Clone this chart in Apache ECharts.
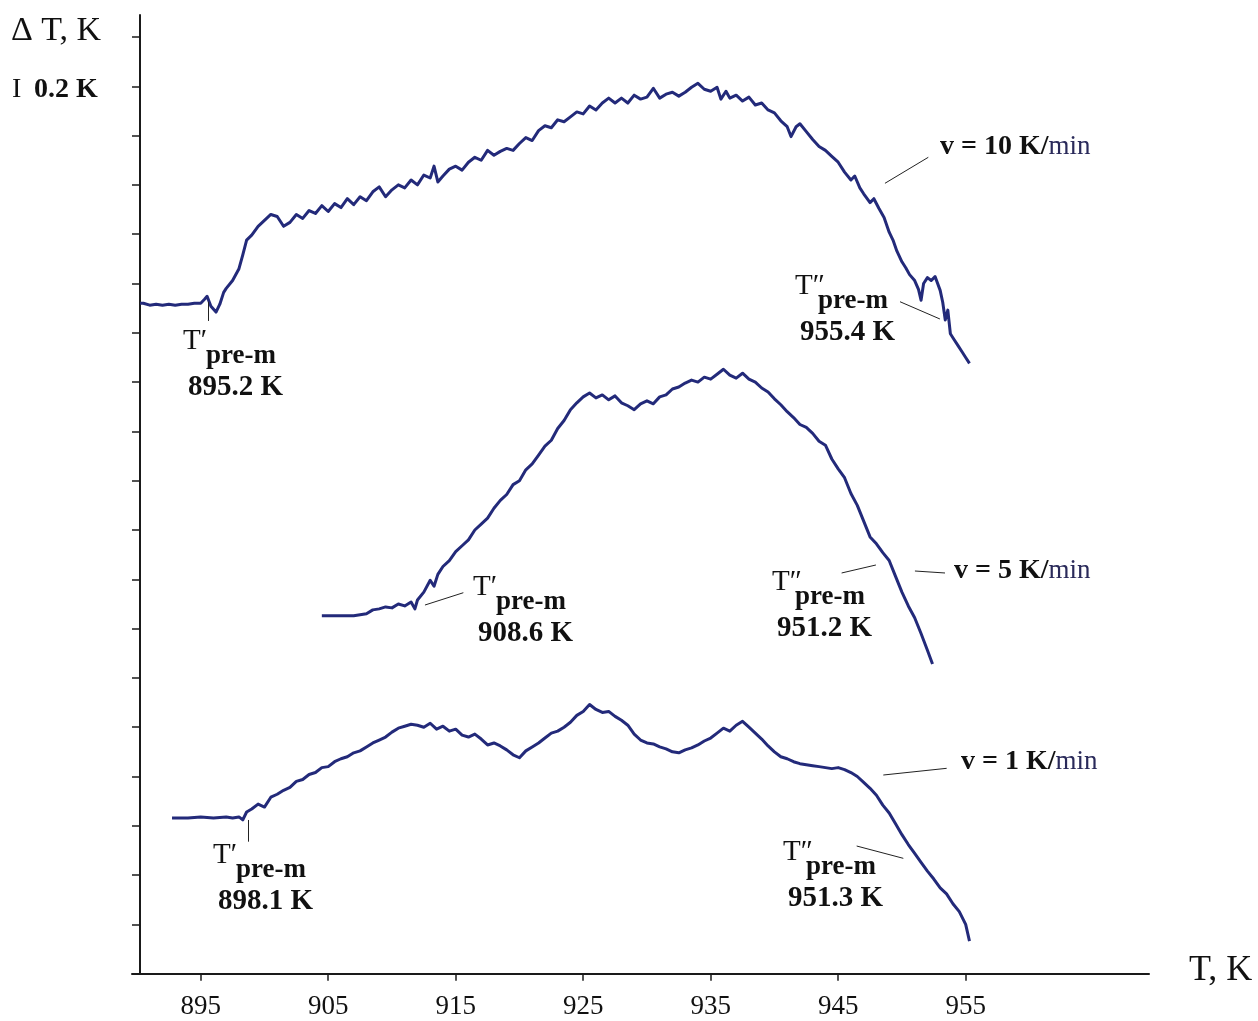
<!DOCTYPE html>
<html>
<head>
<meta charset="utf-8">
<title>ΔT vs T</title>
<script src="https://cdn.jsdelivr.net/npm/echarts@6.0.0/dist/echarts.min.js"></script>
<style>
  html, body { margin: 0; padding: 0; background: #fff; }
  #chart { width: 1258px; height: 1021px; }
</style>
</head>
<body>
<div id="chart"></div>
<script>
// Temperature axis ticks (K)
const xTicks = [895, 905, 915, 925, 935, 945, 955];

// Heating rate v = 10 K/min
const temps10 = [890.25, 890.5, 891, 891.5, 892, 892.5, 893, 893.5, 894, 894.5, 895, 895.3, 895.5, 895.8, 896.2, 896.5, 896.8, 897, 897.5, 898, 898.3, 898.6, 899, 899.5, 900, 900.5, 901, 901.5, 902, 902.5, 903, 903.5, 904, 904.5, 905, 905.5, 906, 906.5, 907, 907.5, 908, 908.5, 909, 909.5, 910, 910.5, 911, 911.5, 912, 912.5, 913, 913.3, 913.6, 914, 914.5, 915, 915.5, 916, 916.5, 917, 917.5, 918, 918.5, 919, 919.5, 920, 920.5, 921, 921.5, 922, 922.5, 923, 923.5, 924, 924.5, 925, 925.5, 926, 926.5, 927, 927.5, 928, 928.5, 929, 929.5, 930, 930.5, 931, 931.5, 932, 932.5, 933, 933.5, 934, 934.5, 935, 935.5, 935.8, 936.2, 936.5, 937, 937.5, 938, 938.5, 939, 939.5, 940, 940.5, 941, 941.3, 941.7, 942, 942.5, 943, 943.5, 944, 944.5, 945, 945.5, 946, 946.3, 946.7, 947, 947.5, 947.8, 948.2, 948.6, 949, 949.3, 949.6, 950, 950.3, 950.6, 951, 951.3, 951.5, 951.7, 952, 952.3, 952.6, 953, 953.2, 953.4, 953.6, 953.8, 954.1, 954.4, 954.7, 955, 955.3];
const dT10 = [6.80, 6.80, 6.78, 6.79, 6.78, 6.79, 6.78, 6.79, 6.79, 6.80, 6.80, 6.84, 6.87, 6.77, 6.71, 6.79, 6.91, 6.95, 7.03, 7.15, 7.29, 7.44, 7.49, 7.58, 7.64, 7.70, 7.68, 7.58, 7.62, 7.70, 7.66, 7.74, 7.71, 7.79, 7.73, 7.81, 7.77, 7.86, 7.80, 7.88, 7.84, 7.93, 7.98, 7.88, 7.95, 8.00, 7.97, 8.05, 8.00, 8.10, 8.07, 8.19, 8.03, 8.09, 8.16, 8.19, 8.15, 8.23, 8.28, 8.25, 8.35, 8.30, 8.34, 8.37, 8.35, 8.42, 8.48, 8.45, 8.55, 8.60, 8.58, 8.66, 8.64, 8.69, 8.74, 8.72, 8.80, 8.76, 8.83, 8.88, 8.83, 8.88, 8.83, 8.91, 8.87, 8.89, 8.98, 8.88, 8.92, 8.94, 8.90, 8.94, 8.99, 9.03, 8.97, 8.95, 8.99, 8.87, 8.95, 8.88, 8.91, 8.85, 8.89, 8.81, 8.83, 8.76, 8.73, 8.65, 8.59, 8.49, 8.59, 8.62, 8.54, 8.46, 8.39, 8.35, 8.29, 8.23, 8.13, 8.05, 8.09, 7.97, 7.91, 7.82, 7.86, 7.76, 7.67, 7.52, 7.44, 7.33, 7.22, 7.16, 7.09, 7.03, 6.94, 6.83, 7.00, 7.06, 7.03, 7.07, 6.93, 6.81, 6.63, 6.73, 6.49, 6.43, 6.37, 6.31, 6.25, 6.19];

// Heating rate v = 5 K/min
const temps5 = [904.5, 905, 906, 907, 907.5, 908, 908.5, 909, 909.5, 910, 910.5, 911, 911.5, 911.8, 912, 912.5, 913, 913.3, 913.6, 914, 914.5, 915, 915.5, 916, 916.5, 917, 917.5, 918, 918.5, 919, 919.5, 920, 920.5, 921, 921.5, 922, 922.5, 923, 923.5, 924, 924.5, 925, 925.5, 926, 926.5, 927, 927.5, 928, 928.5, 929, 929.5, 930, 930.5, 931, 931.5, 932, 932.5, 933, 933.5, 934, 934.5, 935, 935.5, 936, 936.5, 937, 937.5, 938, 938.5, 939, 939.5, 940, 940.5, 941, 941.5, 942, 942.5, 943, 943.5, 944, 944.5, 945, 945.5, 946, 946.5, 947, 947.5, 948, 948.5, 949, 949.5, 950, 950.5, 951, 951.5, 952, 952.4];
const dT5 = [3.63, 3.63, 3.63, 3.63, 3.64, 3.65, 3.69, 3.70, 3.72, 3.71, 3.75, 3.73, 3.77, 3.70, 3.79, 3.87, 3.99, 3.93, 4.05, 4.13, 4.19, 4.28, 4.34, 4.40, 4.50, 4.56, 4.62, 4.72, 4.80, 4.86, 4.96, 5.00, 5.11, 5.17, 5.26, 5.35, 5.41, 5.53, 5.61, 5.72, 5.79, 5.85, 5.89, 5.84, 5.87, 5.82, 5.86, 5.79, 5.76, 5.72, 5.78, 5.81, 5.78, 5.85, 5.87, 5.93, 5.95, 5.99, 6.02, 6.00, 6.05, 6.03, 6.08, 6.13, 6.07, 6.04, 6.09, 6.03, 6.00, 5.94, 5.90, 5.83, 5.77, 5.70, 5.64, 5.57, 5.54, 5.48, 5.40, 5.36, 5.22, 5.12, 5.03, 4.87, 4.75, 4.59, 4.43, 4.36, 4.27, 4.19, 4.03, 3.87, 3.73, 3.61, 3.45, 3.28, 3.14];

// Heating rate v = 1 K/min
const temps1 = [892.75, 893, 894, 895, 896, 897, 897.5, 898, 898.3, 898.6, 899, 899.5, 900, 900.5, 901, 901.5, 902, 902.5, 903, 903.5, 904, 904.5, 905, 905.5, 906, 906.5, 907, 907.5, 908, 908.5, 909, 909.5, 910, 910.5, 911, 911.5, 912, 912.5, 913, 913.5, 914, 914.5, 915, 915.5, 916, 916.5, 917, 917.5, 918, 918.5, 919, 919.5, 920, 920.5, 921, 921.5, 922, 922.5, 923, 923.5, 924, 924.5, 925, 925.5, 926, 926.5, 927, 927.5, 928, 928.5, 929, 929.5, 930, 930.5, 931, 931.5, 932, 932.5, 933, 933.5, 934, 934.5, 935, 935.5, 936, 936.5, 937, 937.5, 938, 938.5, 939, 939.5, 940, 940.5, 941, 941.5, 942, 942.5, 943, 943.5, 944, 944.5, 945, 945.5, 946, 946.5, 947, 947.5, 948, 948.5, 949, 949.5, 950, 950.5, 951, 951.5, 952, 952.5, 953, 953.5, 954, 954.5, 955, 955.3];
const dT1 = [1.58, 1.58, 1.58, 1.59, 1.58, 1.59, 1.58, 1.59, 1.56, 1.64, 1.67, 1.72, 1.69, 1.79, 1.82, 1.86, 1.89, 1.95, 1.97, 2.02, 2.04, 2.09, 2.10, 2.15, 2.18, 2.20, 2.24, 2.26, 2.30, 2.34, 2.37, 2.40, 2.45, 2.49, 2.51, 2.53, 2.52, 2.50, 2.54, 2.48, 2.51, 2.46, 2.48, 2.42, 2.40, 2.43, 2.38, 2.32, 2.34, 2.31, 2.27, 2.22, 2.19, 2.26, 2.30, 2.34, 2.39, 2.44, 2.46, 2.50, 2.55, 2.62, 2.66, 2.73, 2.68, 2.65, 2.66, 2.61, 2.57, 2.52, 2.43, 2.37, 2.34, 2.33, 2.30, 2.28, 2.25, 2.24, 2.27, 2.29, 2.32, 2.36, 2.39, 2.44, 2.49, 2.46, 2.52, 2.56, 2.50, 2.44, 2.38, 2.31, 2.25, 2.20, 2.18, 2.15, 2.13, 2.12, 2.11, 2.10, 2.09, 2.08, 2.09, 2.07, 2.04, 2.00, 1.94, 1.88, 1.81, 1.71, 1.63, 1.52, 1.41, 1.31, 1.22, 1.13, 1.04, 0.96, 0.87, 0.81, 0.71, 0.63, 0.50, 0.33];

// Characteristic temperatures marked on each curve (K)
const preMelt10 = ['895.2 K', '955.4 K'];
const preMelt5 = ['908.6 K', '951.2 K'];
const preMelt1 = ['898.1 K', '951.3 K'];

const SERIF = '"Liberation Serif", "DejaVu Serif", serif';
const CURVE = '#232a7a';

function zip(xs, ys) {
  const out = [];
  for (let i = 0; i < Math.min(xs.length, ys.length); i++) out.push([xs[i], ys[i]]);
  return out;
}

// leader lines from labels to the curves, in data coordinates
function leaders(pairs) {
  return {
    silent: true,
    symbol: ['none', 'none'],
    label: { show: false },
    lineStyle: { color: '#222', width: 1, type: 'solid' },
    emphasis: { disabled: true },
    animation: false,
    data: pairs.map(p => [{ coord: p[0] }, { coord: p[1] }])
  };
}

function txt(x, y, text, size, weight, fill) {
  return {
    type: 'text', silent: true,
    style: {
      x: x, y: y, text: text,
      font: (weight || 'normal') + ' ' + size + 'px ' + SERIF,
      fill: fill || '#111',
      align: 'left', verticalAlign: 'middle'
    }
  };
}

// T' / T'' label with subscript "pre-m" and the temperature below it
function preLabel(x, y, primes, value) {
  return [
    txt(x, y, 'T' + primes, 29, 'normal'),
    txt(x + 23, y + 15, 'pre-m', 27, 'bold'),
    txt(x + 5, y + 47, value, 29, 'bold')
  ];
}

function rateLabel(x, y, v) {
  return {
    type: 'text', silent: true,
    style: {
      x: x, y: y,
      text: '{b|v = ' + v + ' K/}{m|min}',
      align: 'left', verticalAlign: 'middle',
      rich: {
        b: { font: 'bold 28px ' + SERIF, fill: '#111' },
        m: { font: 'normal 27px ' + SERIF, fill: '#2a2a5a' }
      }
    }
  };
}

const yTicks = [];
for (let v = 0; v <= 9.5 + 1e-9; v += 0.5) yTicks.push(+v.toFixed(1));

const chart = echarts.init(document.getElementById('chart'), null, { renderer: 'canvas' });

const curveLine = { color: CURVE, width: 3, join: 'round' };

const option = {
  animation: false,
  backgroundColor: '#ffffff',
  grid: { left: 132, right: 109, top: 15, bottom: 47.3, containLabel: false },
  xAxis: {
    type: 'value',
    min: 889.61,
    max: 969.38,
    axisLine: { show: true, lineStyle: { color: '#1a1a1a', width: 2 } },
    axisTick: { show: true, customValues: xTicks, length: 7, lineStyle: { color: '#1a1a1a', width: 1.5 } },
    axisLabel: {
      show: true, customValues: xTicks, margin: 20,
      color: '#111', fontFamily: SERIF, fontSize: 27,
      formatter: v => String(Math.round(v))
    },
    splitLine: { show: false }
  },
  yAxis: {
    type: 'value',
    min: 0,
    max: 9.723,
    offset: -8,
    axisLine: { show: true, lineStyle: { color: '#1a1a1a', width: 2 } },
    axisTick: { show: true, customValues: yTicks, length: 8, lineStyle: { color: '#1a1a1a', width: 1.5 } },
    axisLabel: { show: false },
    splitLine: { show: false }
  },
  series: [
    {
      name: 'v = 10 K/min', type: 'line', data: zip(temps10, dT10),
      showSymbol: false, smooth: false,
      lineStyle: curveLine,
      markLine: leaders([
        [[895.60, 6.815], [895.60, 6.62]],
        [[949.85, 6.815], [952.98, 6.64]],
        [[948.67, 8.016], [952.07, 8.280]]
      ])
    },
    {
      name: 'v = 5 K/min', type: 'line', data: zip(temps5, dT5),
      showSymbol: false, smooth: false,
      lineStyle: curveLine,
      markLine: leaders([
        [[912.59, 3.739], [915.60, 3.864]],
        [[945.27, 4.064], [947.96, 4.145]],
        [[951.02, 4.084], [953.38, 4.064]]
      ])
    },
    {
      name: 'v = 1 K/min', type: 'line', data: zip(temps1, dT1),
      showSymbol: false, smooth: false,
      lineStyle: curveLine,
      markLine: leaders([
        [[898.69, 1.559], [898.69, 1.339]],
        [[946.45, 1.295], [950.11, 1.170]],
        [[948.54, 2.015], [953.51, 2.083]]
      ])
    }
  ],
  graphic: [
    txt(11, 31, 'Δ T, K', 34, 'normal'),
    txt(12, 90, 'I', 28, 'normal'),
    txt(34, 90, '0.2 K', 28, 'bold'),
    txt(1189, 971, 'T, K', 36, 'normal'),
    ...preLabel(183, 341, '′', preMelt10[0]),
    ...preLabel(795, 286, '″', preMelt10[1]),
    ...preLabel(473, 587, '′', preMelt5[0]),
    ...preLabel(772, 582, '″', preMelt5[1]),
    ...preLabel(213, 855, '′', preMelt1[0]),
    ...preLabel(783, 852, '″', preMelt1[1]),
    rateLabel(940, 147, 10),
    rateLabel(954, 571, 5),
    rateLabel(961, 762, 1)
  ]
};

chart.setOption(option);
</script>
</body>
</html>
